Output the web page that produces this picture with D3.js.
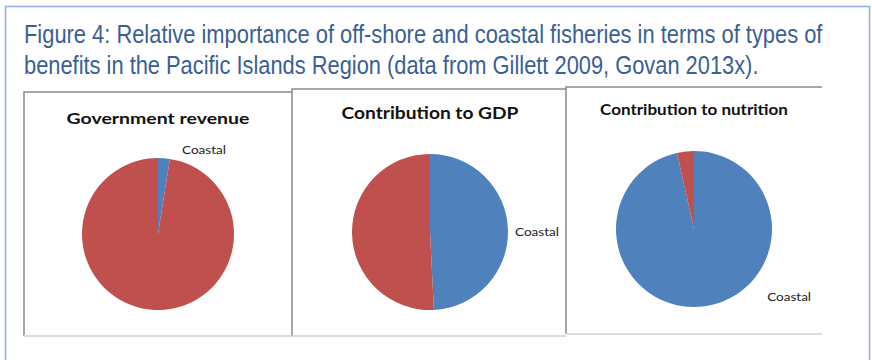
<!DOCTYPE html>
<html lang="en">
<head>
<meta charset="UTF-8">
<title>Figure 4: Off-shore vs coastal fisheries</title>
<script src="https://cdnjs.cloudflare.com/ajax/libs/d3/7.8.5/d3.min.js"></script>
<style>
    body { margin: 0; background: #fff; }
    svg { display: block; }
    .fig-title { font-family: "Liberation Sans Narrow", "Arial Narrow", "Liberation Sans", Arial, sans-serif; font-size: 26px; fill: #3a5f94; }
    .chart-title { font-family: Lato, "Open Sans", sans-serif; font-weight: 700; fill: #111; }
    .slice-label { font-family: Lato, "Open Sans", sans-serif; font-size: 12px; fill: #222; }
</style>
</head>
<body>
<svg id="fig" width="872" height="360"></svg>
<script>
// data (percent share of each benefit type)
const charts = ["Government revenue", "Contribution to GDP", "Contribution to nutrition"];
const categories = ["Coastal", "Off-shore"];
const coastal = [2.5, 49.2, 96.5];
const offshore = [97.5, 50.8, 3.5];
const titleLines = [
    "Figure 4: Relative importance of off-shore and coastal fisheries in terms of types of",
    "benefits in the Pacific Islands Region (data from Gillett 2009, Govan 2013x)."
];

// layout
const panels = [
    {x: 24, y: 92, w: 270, h: 244, cx: 158, cy: 234, r: 76, ty: 124, tsize: 16, tlen: 183, la: 16, lo: 11},
    {x: 292, y: 89, w: 274, h: 247, cx: 430, cy: 232, r: 78, ty: 119, tsize: 17, tlen: 177, la: 90, lo: 7},
    {x: 566, y: 87, w: 256, h: 247, cx: 694, cy: 229, r: 78, ty: 115, tsize: 15, tlen: 188, la: 133, lo: 22}
];
const colors = d3.scaleOrdinal().domain(categories).range(["#4f81bd", "#c0504d"]);

const svg = d3.select("#fig");

// squeeze a text horizontally to a given width (keeps its real bbox)
function fitWidth(sel, x, width, anchor) {
    sel.each(function () {
        const t = d3.select(this);
        const w = this.getComputedTextLength();
        const s = width / w;
        const y = +t.attr("y");
        t.attr("x", 0).attr("y", 0)
            .attr("text-anchor", anchor)
            .attr("transform", `translate(${x},${y}) scale(${s},1)`);
    });
}

// outer frame (open at the bottom)
svg.append("path")
    .attr("d", "M5.5,362 V6.5 H869.5 V362")
    .attr("fill", "none")
    .attr("stroke", "#8db3e2")
    .attr("stroke-width", 1.5);

svg.selectAll(".fig-title")
    .data(titleLines)
    .join("text")
    .attr("class", "fig-title")
    .attr("y", (d, i) => 43 + i * 31)
    .text(d => d)
    .each(function (d, i) { fitWidth(d3.select(this), 24, i === 0 ? 799 : 735, "start"); });

const pie = d3.pie().sort(null).value(d => d.value);

charts.forEach((name, i) => {
    const p = panels[i];
    const g = svg.append("g");

    g.append("rect")
        .attr("x", p.x).attr("y", p.y)
        .attr("width", p.w).attr("height", p.h)
        .attr("fill", "#fff");
    // panel edges: grey top/left, light bottom
    g.append("path")
        .attr("d", `M${p.x},${p.y + p.h} V${p.y} H${p.x + p.w}`)
        .attr("fill", "none").attr("stroke", "#8a8a8a").attr("stroke-width", 1.5);
    g.append("line")
        .attr("x1", p.x).attr("x2", p.x + p.w)
        .attr("y1", p.y + p.h).attr("y2", p.y + p.h)
        .attr("stroke", "#dcdcdc").attr("stroke-width", 2);

    g.append("text")
        .attr("class", "chart-title")
        .attr("y", p.ty)
        .attr("font-size", p.tsize)
        .text(name)
        .call(fitWidth, p.cx, p.tlen, "middle");

    const values = [
        {cat: categories[0], value: coastal[i]},
        {cat: categories[1], value: offshore[i]}
    ];
    const arc = d3.arc().innerRadius(0).outerRadius(p.r);
    const pg = g.append("g").attr("transform", `translate(${p.cx},${p.cy})`);
    pg.selectAll("path")
        .data(pie(values))
        .join("path")
        .attr("d", arc)
        .attr("fill", d => colors(d.data.cat));

    // Coastal label placed where Excel's best-fit put it
    const a = p.la * Math.PI / 180;
    const lr = p.r + p.lo;
    const pos = d3.arc().innerRadius(lr).outerRadius(lr).centroid({startAngle: a, endAngle: a});
    pg.append("text")
        .attr("class", "slice-label")
        .attr("y", pos[1] + 4)
        .text(categories[0])
        .call(fitWidth, pos[0], 44, "start");
});
</script>
</body>
</html>
